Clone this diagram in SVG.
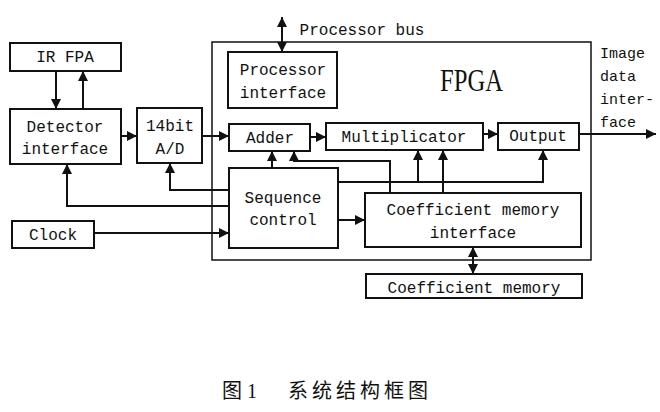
<svg xmlns="http://www.w3.org/2000/svg" width="660" height="412" viewBox="0 0 660 412">
<style>
.box{fill:#fff;stroke:#111;stroke-width:2}
.frame{fill:none;stroke:#111;stroke-width:1.5}
.t{font-family:"Liberation Mono","DejaVu Sans Mono",monospace;font-size:16px;fill:#111;text-anchor:middle}
.c{fill:none;stroke:#111;stroke-width:2}
.big{font-family:"Liberation Serif","DejaVu Serif",serif;font-size:31px;fill:#111}
.cap{font-family:"Liberation Serif","Noto Sans CJK SC",serif;font-size:20px;fill:#111}
</style>
<defs>
<marker id="ah" viewBox="0 0 10 10" refX="10" refY="5" markerWidth="10" markerHeight="10" markerUnits="userSpaceOnUse" orient="auto-start-reverse">
<path d="M0,0 L10,5 L0,10 z" fill="#111"/>
</marker>
</defs>
<rect width="660" height="412" fill="#fff"/>
<g id="fpga">
<rect class="frame" x="212" y="42" width="379" height="218"/>
<text class="big" x="440" y="91" textLength="63" lengthAdjust="spacingAndGlyphs">FPGA</text>
</g>
<g id="connectors">
<line class="c" x1="56" y1="71" x2="56" y2="109" marker-end="url(#ah)"/>
<line class="c" x1="83" y1="109" x2="83" y2="71" marker-end="url(#ah)"/>
<line class="c" x1="121" y1="136" x2="137" y2="136" marker-end="url(#ah)"/>
<line class="c" x1="202" y1="136" x2="229" y2="136" marker-end="url(#ah)"/>
<line class="c" x1="310" y1="137" x2="326" y2="137" marker-end="url(#ah)"/>
<line class="c" x1="483" y1="134" x2="498" y2="134" marker-end="url(#ah)"/>
<line class="c" x1="579" y1="134" x2="656" y2="134" marker-end="url(#ah)"/>
<line class="c" x1="282" y1="17" x2="282" y2="52" marker-start="url(#ah)" marker-end="url(#ah)"/>
<polyline class="c" points="229,190 170,190 170,163" marker-end="url(#ah)"/>
<polyline class="c" points="229,206 67,206 67,164" marker-end="url(#ah)"/>
<line class="c" x1="94" y1="233" x2="229" y2="233" marker-end="url(#ah)"/>
<line class="c" x1="272" y1="168" x2="272" y2="151" marker-end="url(#ah)"/>
<line class="c" x1="338" y1="220" x2="365" y2="220" marker-end="url(#ah)"/>
<polyline class="c" points="390,193 390,161 294,161 294,151" marker-end="url(#ah)"/>
<polyline class="c" points="338,182 543,182 543,150" marker-end="url(#ah)"/>
<line class="c" x1="418" y1="182" x2="418" y2="150" marker-end="url(#ah)"/>
<line class="c" x1="443" y1="193" x2="443" y2="150" marker-end="url(#ah)"/>
<line class="c" x1="473" y1="247" x2="473" y2="274" marker-start="url(#ah)" marker-end="url(#ah)"/>
</g>
<g id="irfpa"><rect class="box" x="10" y="43" width="111" height="28"/><text class="t" x="65" y="62">IR FPA</text></g>
<g id="detector"><rect class="box" x="10" y="109" width="111" height="55"/><text class="t" x="65" y="132">Detector</text><text class="t" x="65" y="154">interface</text></g>
<g id="ad"><rect class="box" x="137" y="108" width="65" height="55"/><text class="t" x="170" y="131">14bit</text><text class="t" x="170" y="154">A/D</text></g>
<g id="clock"><rect class="box" x="12" y="221" width="82" height="27"/><text class="t" x="53" y="240">Clock</text></g>
<g id="procif"><rect class="box" x="228" y="52" width="109" height="56"/><text class="t" x="283" y="75">Processor</text><text class="t" x="283" y="98">interface</text></g>
<g id="adder"><rect class="box" x="229" y="124" width="81" height="27"/><text class="t" x="270" y="143">Adder</text></g>
<g id="mult"><rect class="box" x="326" y="123" width="157" height="27"/><text class="t" x="404" y="142">Multiplicator</text></g>
<g id="output"><rect class="box" x="498" y="123" width="81" height="27"/><text class="t" x="538" y="141">Output</text></g>
<g id="seq"><rect class="box" x="229" y="168" width="109" height="80"/><text class="t" x="283" y="203">Sequence</text><text class="t" x="283" y="225">control</text></g>
<g id="coefif"><rect class="box" x="365" y="193" width="216" height="54"/><text class="t" x="473" y="215">Coefficient memory</text><text class="t" x="473" y="238">interface</text></g>
<g id="coefmem"><rect class="box" x="366" y="274" width="216" height="24"/><text class="t" x="474" y="293">Coefficient memory</text></g>
<g id="labels">
<text class="t" x="362" y="35">Processor bus</text>
<text class="t" x="600" y="58" style="text-anchor:start;font-size:15px">Image</text>
<text class="t" x="600" y="81" style="text-anchor:start;font-size:15px">data</text>
<text class="t" x="600" y="104" style="text-anchor:start;font-size:15px">inter-</text>
<text class="t" x="600" y="127" style="text-anchor:start;font-size:15px">face</text>
<text class="cap" x="222" y="398">图 1</text>
<text class="cap" x="288" y="398" letter-spacing="4">系统结构框图</text>
</g>
</svg>
